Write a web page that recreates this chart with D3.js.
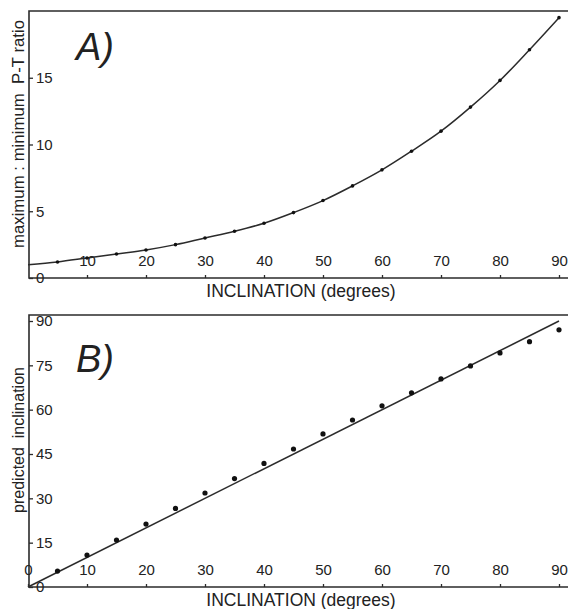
<!DOCTYPE html>
<html>
<head>
<meta charset="utf-8">
<script src="https://cdn.jsdelivr.net/npm/d3@7"></script>
<style>
  body { margin: 0; background: #fff; }
  svg text { font-family: "Liberation Sans", Arial, sans-serif; fill: #222; }
</style>
</head>
<body>
<div id="main"></div>
<script>
// inclination values (degrees) where the dots sit
const inclination = [5, 10, 15, 20, 25, 30, 35, 40, 45, 50, 55, 60, 65, 70, 75, 80, 85, 90];
// panel A: max:min P-T ratio
const ratioA = [1.2, 1.5, 1.8, 2.1, 2.5, 3.0, 3.5, 4.1, 4.9, 5.8, 6.9, 8.1, 9.5, 11.0, 12.8, 14.8, 17.1, 19.5];
// the fitted curve starts at 0 degrees
const curveStartA = { x: 0, y: 1.0 };
// panel B: predicted inclination
const predictedB = [5.4, 10.8, 15.9, 21.3, 26.6, 31.8, 36.7, 41.8, 46.7, 51.8, 56.5, 61.3, 65.7, 70.4, 74.8, 79.2, 83.0, 87.0];
const oneToOne = [0, 90];

const xTicksA = [10, 20, 30, 40, 50, 60, 70, 80, 90];
const yTicksA = [0, 5, 10, 15];
const xTicksB = [0, 10, 20, 30, 40, 50, 60, 70, 80, 90];
const yTicksB = [0, 15, 30, 45, 60, 75, 90];

const W = 568, H = 609;
const ink = '#2b2b2b';

const svg = d3.select('#main').append('svg')
  .attr('width', W).attr('height', H);

const x = d3.scaleLinear().domain([0, 90]).range([28, 559]);

function frame(top, bottom) {
  const g = svg.append('g').attr('stroke', ink).attr('stroke-width', 1.6).attr('fill', 'none');
  g.append('path').attr('d', `M568,${top}H29V${bottom}H568`);
}

function axes(yScale, bottom, xTicks, yTicks, labelOffset) {
  const xa = svg.append('g')
    .attr('transform', `translate(0,${bottom})`)
    .call(d3.axisTop(x).tickValues(xTicks).tickSize(3).tickPadding(labelOffset));
  const ya = svg.append('g')
    .attr('transform', 'translate(29,0)')
    .call(d3.axisRight(yScale).tickValues(yTicks).tickSize(4).tickPadding(3));
  [xa, ya].forEach(a => {
    a.select('.domain').remove();
    a.selectAll('line').attr('stroke', ink).attr('stroke-width', 1.3);
    a.selectAll('text').attr('fill', '#222').style('font-size', '15px');
  });
}

// ---------- panel A ----------
const yA = d3.scaleLinear().domain([0, 20]).range([278, 11]);
frame(11, 278);
axes(yA, 278, xTicksA, yTicksA, 9);

const curvePts = [curveStartA].concat(inclination.map((d, i) => ({ x: d, y: ratioA[i] })));
svg.append('path')
  .datum(curvePts)
  .attr('fill', 'none').attr('stroke', ink).attr('stroke-width', 1.5)
  .attr('d', d3.line().x(d => x(d.x)).y(d => yA(d.y)).curve(d3.curveCatmullRom));

svg.append('g').selectAll('circle')
  .data(inclination)
  .join('circle')
  .attr('cx', d => x(d))
  .attr('cy', (d, i) => yA(ratioA[i]))
  .attr('r', 1.8)
  .attr('fill', '#111');

svg.append('text')
  .attr('x', 95).attr('y', 60)
  .attr('text-anchor', 'middle')
  .style('font-size', '38px').style('font-style', 'italic')
  .text('A)');

svg.append('text')
  .attr('x', 301).attr('y', 297)
  .attr('text-anchor', 'middle')
  .style('font-size', '17.5px')
  .text('INCLINATION (degrees)');

svg.append('text')
  .attr('transform', 'translate(24,134) rotate(-90)')
  .attr('text-anchor', 'middle')
  .style('font-size', '16.8px')
  .style('white-space', 'pre')
  .text('maximum : minimum  P-T ratio');

// ---------- panel B ----------
const yB = d3.scaleLinear().domain([0, 90]).range([587, 321]);
frame(315, 587);
axes(yB, 587, xTicksB, yTicksB, 9);

svg.append('line')
  .attr('x1', x(oneToOne[0])).attr('y1', yB(oneToOne[0]))
  .attr('x2', x(oneToOne[1])).attr('y2', yB(oneToOne[1]))
  .attr('stroke', ink).attr('stroke-width', 1.5);

svg.append('g').selectAll('circle')
  .data(inclination)
  .join('circle')
  .attr('cx', d => x(d))
  .attr('cy', (d, i) => yB(predictedB[i]))
  .attr('r', 2.6)
  .attr('fill', '#111');

svg.append('text')
  .attr('x', 95).attr('y', 372)
  .attr('text-anchor', 'middle')
  .style('font-size', '38px').style('font-style', 'italic')
  .text('B)');

svg.append('text')
  .attr('x', 301).attr('y', 606)
  .attr('text-anchor', 'middle')
  .style('font-size', '17.5px')
  .text('INCLINATION (degrees)');

svg.append('text')
  .attr('transform', 'translate(24,440) rotate(-90)')
  .attr('text-anchor', 'middle')
  .style('font-size', '16px')
  .style('white-space', 'pre')
  .text('predicted  inclination');
</script>
</body>
</html>
